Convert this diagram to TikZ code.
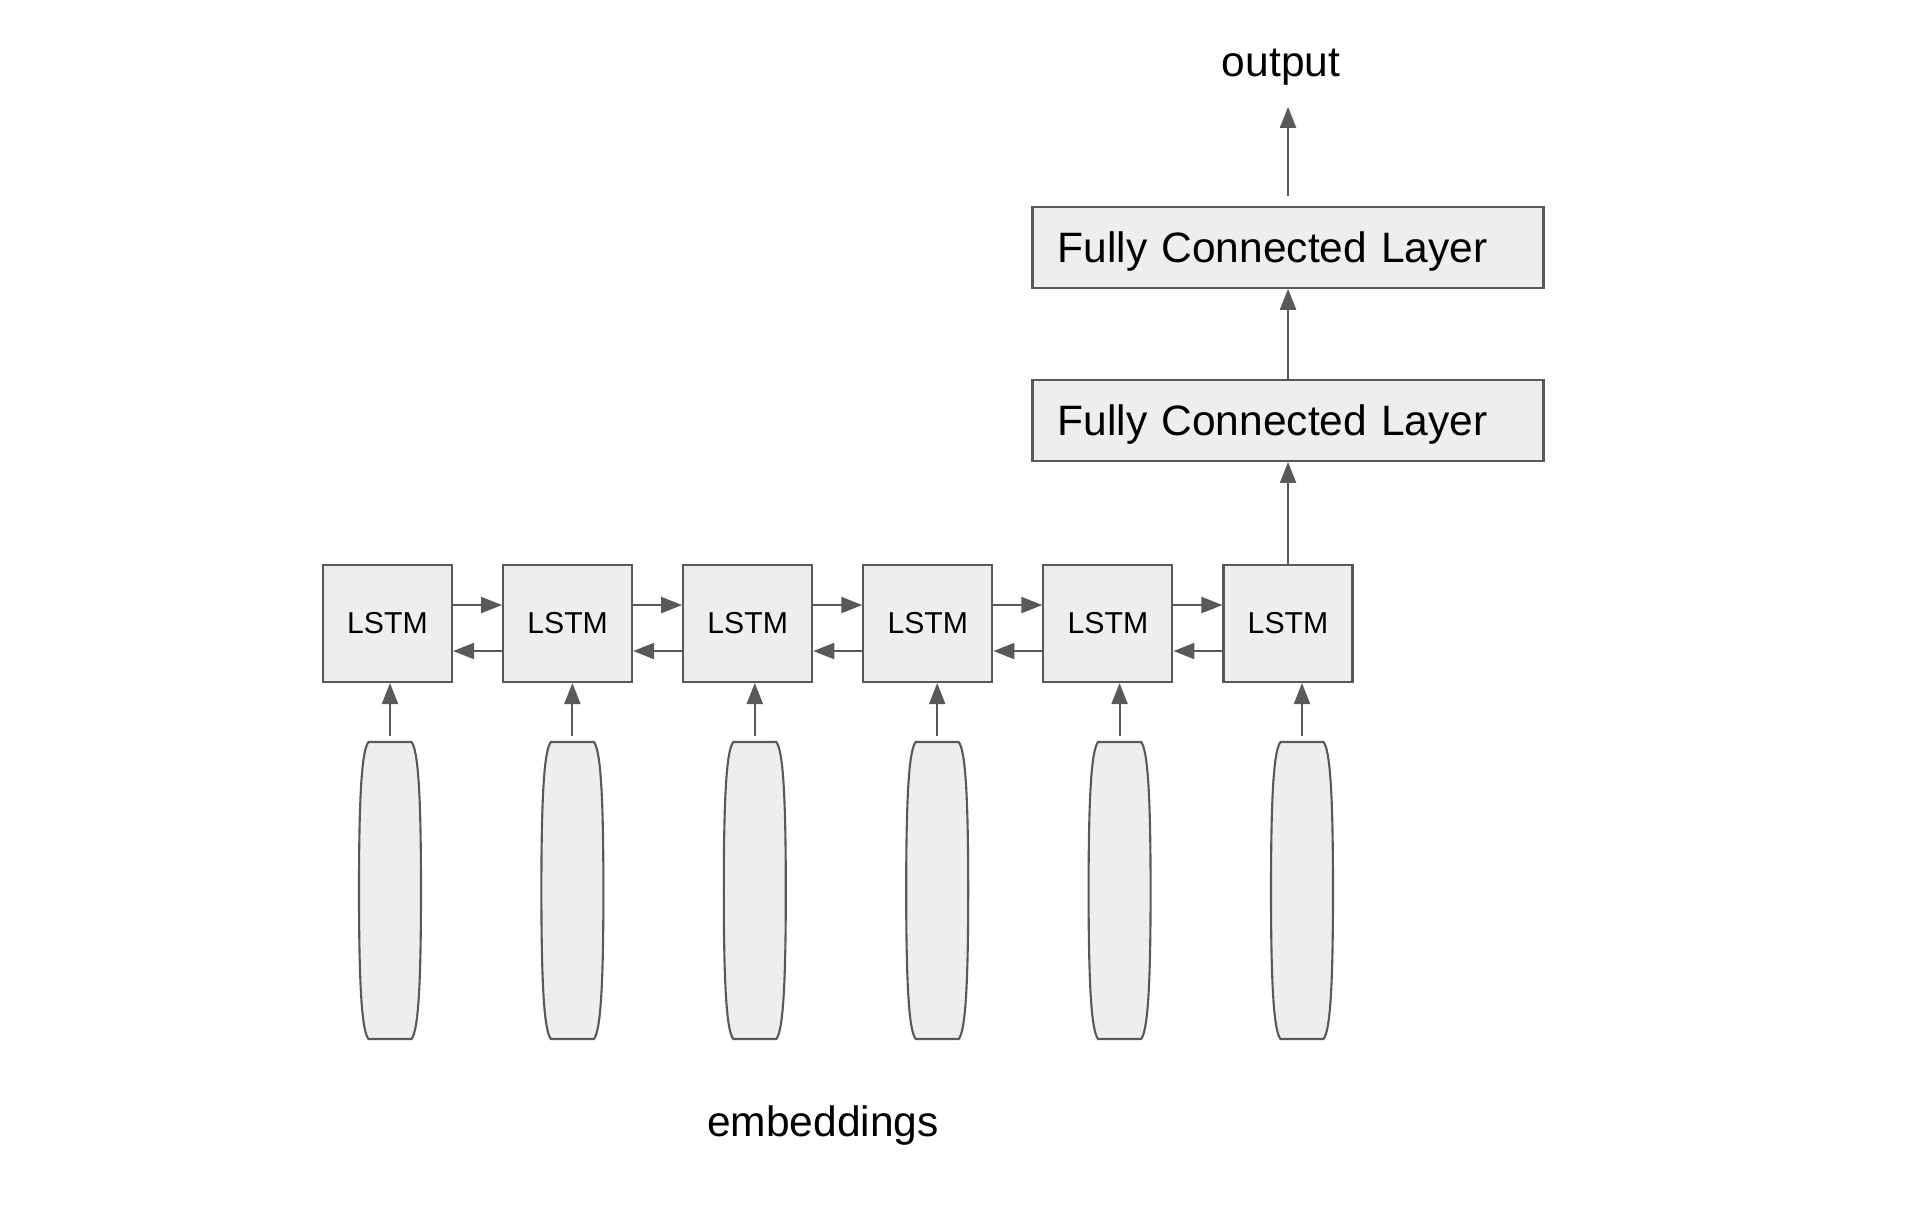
\documentclass[tikz,border=0pt]{standalone}
\usepackage{fontspec}
\setmainfont{Liberation Sans}
\usepackage{xcolor}
\usepackage{tikz}
\usetikzlibrary{positioning}
\usetikzlibrary{arrows.meta}

\definecolor{linegray}{HTML}{595959}
\definecolor{boxgray}{HTML}{EEEEEE}

\begin{document}
\begin{tikzpicture}[>={Triangle[length=2.1mm,width=1.6mm]},line width=0.6pt,node distance=0.49cm,
  lstm/.style={rectangle,draw=linegray,fill=boxgray,minimum width=1.29cm,minimum height=1.17cm,inner sep=0pt,font=\fontsize{8.6}{10}\selectfont},
  fc/.style={rectangle,draw=linegray,fill=boxgray,minimum width=5.11cm,minimum height=0.81cm,inner xsep=0.25cm,inner ysep=0pt,text width=4.61cm,text height=0.88em,text depth=0pt,align=left,font=\fontsize{12.1}{14}\selectfont},
  emb/.style={draw=linegray,fill=boxgray},
  embnode/.style={inner sep=0pt,outer sep=0pt,minimum width=0.62cm,minimum height=2.97cm},
  lbl/.style={inner sep=0pt,font=\fontsize{12.1}{14}\selectfont},
  arr/.style={->,draw=linegray}]
\useasboundingbox (0,0) rectangle (19.24,12.12);

% LSTM chain
\node[lstm] (l1) at (3.875,5.885) {LSTM};
\node[lstm] (l2) [right=of l1] {LSTM};
\node[lstm] (l3) [right=of l2] {LSTM};
\node[lstm] (l4) [right=of l3] {LSTM};
\node[lstm] (l5) [right=of l4] {LSTM};
\node[lstm] (l6) [right=of l5] {LSTM};

% dense layers
\node[fc] (fc1) [above=1.02cm of l6] {Fully Connected Layer};
\node[fc] (fc2) [above=0.90cm of fc1] {Fully Connected Layer};

\node[lbl,anchor=base] (out) at (12.81,11.35) {output};
\node[lbl,anchor=base] (embl) at (8.23,0.75) {embeddings};

% embedding vectors
\foreach \i in {1,...,6}{
  \pgfmathsetmacro\x{3.90+1.824*(\i-1)}
  \draw[emb] (\x-0.215,4.70) -- (\x+0.215,4.70)
    .. controls (\x+0.28,4.62) and (\x+0.31,4.20) .. (\x+0.31,3.215)
    .. controls (\x+0.31,2.23) and (\x+0.28,1.81) .. (\x+0.215,1.73)
    -- (\x-0.215,1.73)
    .. controls (\x-0.28,1.81) and (\x-0.31,2.23) .. (\x-0.31,3.215)
    .. controls (\x-0.31,4.20) and (\x-0.28,4.62) .. (\x-0.215,4.70) -- cycle;
  \node[embnode] (e\i) at (\x,3.215) {};
  \draw[arr,shorten <=0.6mm] (e\i.north) -- (e\i.north |- l\i.south);
}

\foreach \i/\j in {1/2,2/3,3/4,4/5,5/6}{
  \draw[arr] ([yshift=7.8mm]l\i.south east) -- ([yshift=7.8mm]l\j.south west);
  \draw[arr] ([yshift=3.2mm]l\j.south west) -- ([yshift=3.2mm]l\i.south east);
}

\draw[arr] (l6.north) -- (fc1.south);
\draw[arr] (fc1.north) -- (fc2.south);
\draw[arr,shorten <=1mm,shorten >=2mm] (fc2.north) -- (fc2.north |- out.south);
\end{tikzpicture}
\end{document}
